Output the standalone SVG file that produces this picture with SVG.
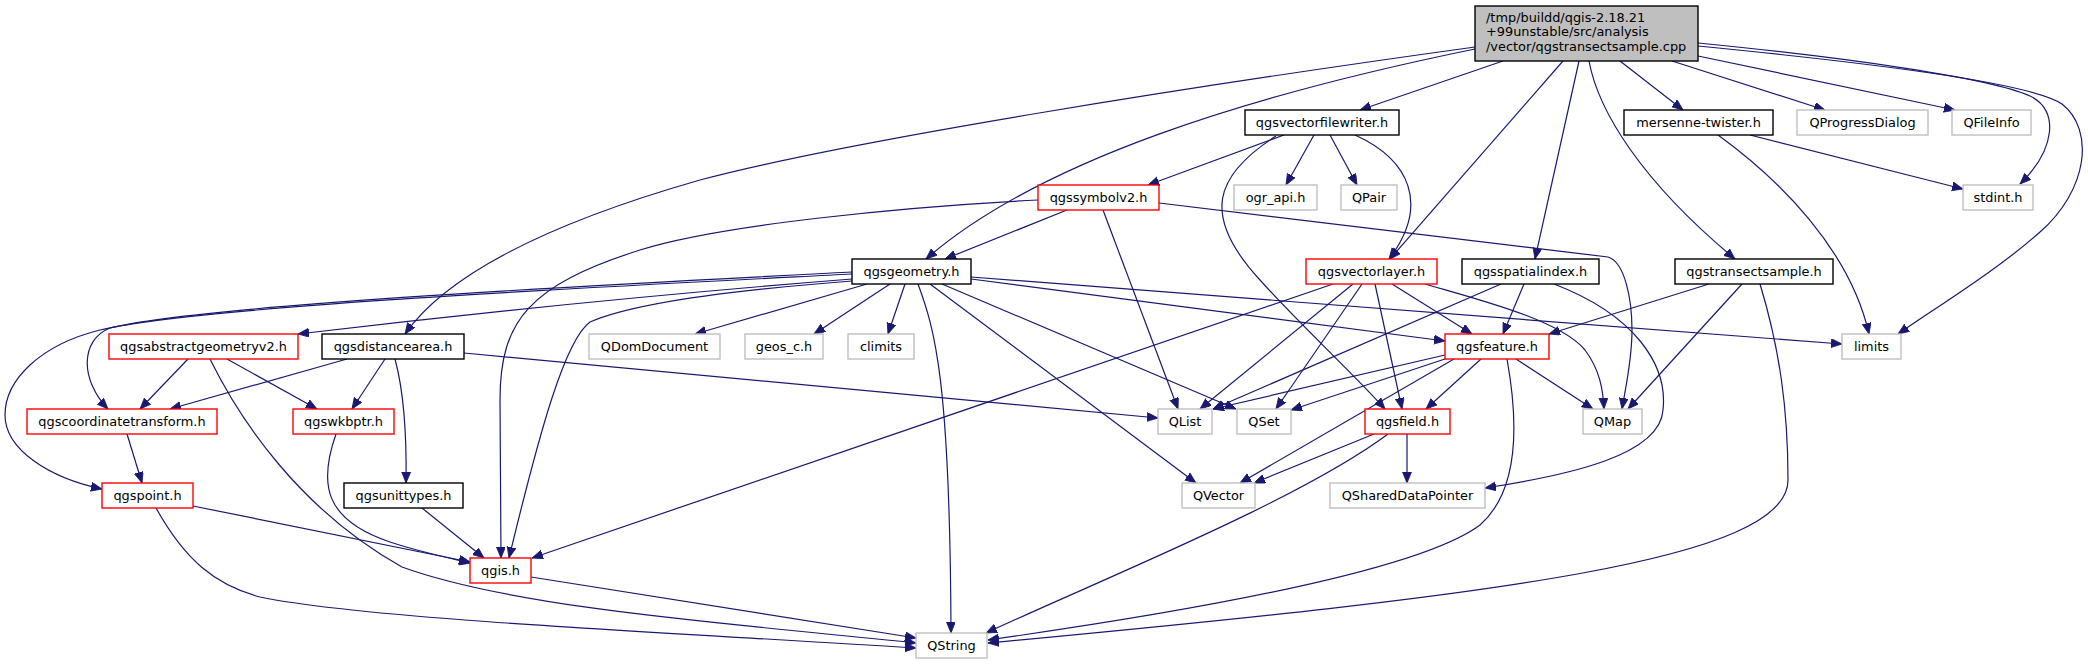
<svg xmlns="http://www.w3.org/2000/svg" width="2088" height="664" viewBox="0 0 2088 664">
<defs>
<marker id="a" markerUnits="userSpaceOnUse" markerWidth="12" markerHeight="10" refX="11" refY="4.5" orient="auto">
<path d="M0,0 L11,4.5 L0,9 z" fill="#191970" stroke="#191970" stroke-width="0.8"/>
</marker>
<style>
.e{fill:none;stroke:#191970;stroke-width:1.2;marker-end:url(#a)}
rect{stroke-width:1.4}
.m{fill:#bfbfbf;stroke:#000}
.b{fill:#fff;stroke:#000}
.r{fill:#fff;stroke:#ff0000}
.g{fill:#fff;stroke:#bfbfbf}
text{font-family:"DejaVu Sans","Noto Sans",sans-serif;font-size:12.9px;fill:#000;text-anchor:middle}
.l{text-anchor:start}
</style>
</defs>
<rect width="2088" height="664" fill="#fff"/>
<g id="edges">
<path class="e" d="M1503,61 L1360,110"/>
<path class="e" d="M1620,61 L1683,110"/>
<path class="e" d="M1672,61 L1825,110"/>
<path class="e" d="M1698,56 L1955,110"/>
<path class="e" d="M1698,43 C1850,58 1990,78 2030,96 C2060,110 2055,150 2020,184"/>
<path class="e" d="M1698,46 C1860,62 2030,82 2062,104 C2095,130 2088,190 2040,232 C2000,268 1940,305 1898,334"/>
<path class="e" d="M1563,61 L1390,259"/>
<path class="e" d="M1579,61 L1535,259"/>
<path class="e" d="M1589,61 C1598,110 1640,180 1735,259"/>
<path class="e" d="M1475,49 C1250,95 1040,160 926,259"/>
<path class="e" d="M1475,47 C1200,85 850,140 700,180 C560,220 450,270 405,334"/>
<path class="e" d="M1284,135 L1148,185"/>
<path class="e" d="M1314,135 L1286,185"/>
<path class="e" d="M1330,135 L1357,185"/>
<path class="e" d="M1355,135 C1410,160 1430,205 1389,259"/>
<path class="e" d="M1276,136 C1215,175 1200,215 1260,280 C1300,325 1350,370 1385,409"/>
<path class="e" d="M1067,210 L945,259"/>
<path class="e" d="M1038,200 C900,207 720,225 640,250 C530,285 500,320 500,400 L501,558"/>
<path class="e" d="M1103,210 L1178,409"/>
<path class="e" d="M1159,203 L1608,257 C1625,262 1632,300 1632,330 C1632,360 1626,385 1622,409"/>
<path class="e" d="M852,279 C700,291 500,310 298,334"/>
<path class="e" d="M852,272 C600,285 200,305 110,328 C80,340 80,380 108,409"/>
<path class="e" d="M852,274 C600,287 200,306 100,330 C40,345 5,380 5,415 C5,450 50,478 102,489"/>
<path class="e" d="M852,281 C760,288 640,300 590,322 C565,340 540,430 509,558"/>
<path class="e" d="M867,284 L695,334"/>
<path class="e" d="M890,284 L814,334"/>
<path class="e" d="M905,284 L888,334"/>
<path class="e" d="M918,284 C935,330 950,380 951,633"/>
<path class="e" d="M930,284 L1196,483"/>
<path class="e" d="M942,284 L1236,409"/>
<path class="e" d="M971,279 L1445,341"/>
<path class="e" d="M971,277 L1842,344"/>
<path class="e" d="M347,359 L170,409"/>
<path class="e" d="M385,359 L352,409"/>
<path class="e" d="M395,359 C402,385 407,420 406,483"/>
<path class="e" d="M464,353 L1158,418"/>
<path class="e" d="M188,359 L140,409"/>
<path class="e" d="M227,359 L317,409"/>
<path class="e" d="M210,359 C240,420 300,510 402,567 C520,610 750,625 916,643"/>
<path class="e" d="M127,434 L142,483"/>
<path class="e" d="M336,434 C318,485 325,520 390,542 C420,552 445,557 471,563"/>
<path class="e" d="M193,506 L470,562"/>
<path class="e" d="M156,508 C185,560 215,585 260,597 C370,620 700,634 916,648"/>
<path class="e" d="M422,508 L484,558"/>
<path class="e" d="M531,577 L916,638"/>
<path class="e" d="M1333,284 L532,558"/>
<path class="e" d="M1353,284 L1200,409"/>
<path class="e" d="M1362,284 L1276,409"/>
<path class="e" d="M1375,284 L1402,409"/>
<path class="e" d="M1392,284 L1472,334"/>
<path class="e" d="M1425,284 C1480,300 1560,320 1585,350 C1600,370 1603,390 1604,409"/>
<path class="e" d="M1501,284 L1213,409"/>
<path class="e" d="M1524,284 L1503,334"/>
<path class="e" d="M1554,284 C1635,315 1668,365 1663,410 C1660,455 1570,475 1485,488"/>
<path class="e" d="M1709,284 L1549,334"/>
<path class="e" d="M1742,284 L1628,409"/>
<path class="e" d="M1760,284 C1780,350 1788,410 1788,480 C1788,560 1500,595 988,643"/>
<path class="e" d="M1445,355 L1213,409"/>
<path class="e" d="M1448,358 L1291,410"/>
<path class="e" d="M1454,359 L1240,483"/>
<path class="e" d="M1481,359 L1426,409"/>
<path class="e" d="M1516,359 L1593,409"/>
<path class="e" d="M1507,359 C1518,420 1520,490 1480,525 C1420,570 1200,610 988,640"/>
<path class="e" d="M1374,434 L1254,483"/>
<path class="e" d="M1407,434 L1407,483"/>
<path class="e" d="M1388,434 C1300,500 1100,580 986,633"/>
<path class="e" d="M1750,135 L1963,189"/>
<path class="e" d="M1718,135 C1780,180 1850,250 1869,334"/>
</g>
<g id="n_main"><rect class="m" x="1475" y="6" width="223" height="55"/><text class="l" x="1486" y="21.5">/tmp/buildd/qgis-2.18.21</text><text class="l" x="1486" y="36">+99unstable/src/analysis</text><text class="l" x="1486" y="50.5">/vector/qgstransectsample.cpp</text></g>
<g id="n_qgsvectorfilewriter"><rect class="b" x="1245" y="110" width="154" height="25"/><text x="1322" y="127">qgsvectorfilewriter.h</text></g>
<g id="n_mersenne"><rect class="b" x="1624" y="110" width="149" height="25"/><text x="1698.5" y="127">mersenne-twister.h</text></g>
<g id="n_QProgressDialog"><rect class="g" x="1797" y="110" width="131" height="25"/><text x="1862.5" y="127">QProgressDialog</text></g>
<g id="n_QFileInfo"><rect class="g" x="1952" y="110" width="79" height="25"/><text x="1991.5" y="127">QFileInfo</text></g>
<g id="n_qgssymbolv2"><rect class="r" x="1038" y="185" width="121" height="25"/><text x="1098.5" y="202">qgssymbolv2.h</text></g>
<g id="n_ogr_api"><rect class="g" x="1234" y="185" width="83" height="25"/><text x="1275.5" y="202">ogr_api.h</text></g>
<g id="n_QPair"><rect class="g" x="1341" y="185" width="56" height="25"/><text x="1369" y="202">QPair</text></g>
<g id="n_stdint"><rect class="g" x="1963" y="185" width="70" height="25"/><text x="1998" y="202">stdint.h</text></g>
<g id="n_qgsgeometry"><rect class="b" x="852" y="259" width="119" height="25"/><text x="911.5" y="276">qgsgeometry.h</text></g>
<g id="n_qgsvectorlayer"><rect class="r" x="1306" y="259" width="131" height="25"/><text x="1371.5" y="276">qgsvectorlayer.h</text></g>
<g id="n_qgsspatialindex"><rect class="b" x="1462" y="259" width="137" height="25"/><text x="1530.5" y="276">qgsspatialindex.h</text></g>
<g id="n_qgstransectsample"><rect class="b" x="1675" y="259" width="158" height="25"/><text x="1754" y="276">qgstransectsample.h</text></g>
<g id="n_qgsabstractgeometryv2"><rect class="r" x="109" y="334" width="189" height="25"/><text x="203.5" y="351">qgsabstractgeometryv2.h</text></g>
<g id="n_qgsdistancearea"><rect class="b" x="322" y="334" width="142" height="25"/><text x="393" y="351">qgsdistancearea.h</text></g>
<g id="n_QDomDocument"><rect class="g" x="589" y="334" width="131" height="25"/><text x="654.5" y="351">QDomDocument</text></g>
<g id="n_geos_c"><rect class="g" x="745" y="334" width="78" height="25"/><text x="784" y="351">geos_c.h</text></g>
<g id="n_climits"><rect class="g" x="848" y="334" width="66" height="25"/><text x="881" y="351">climits</text></g>
<g id="n_qgsfeature"><rect class="r" x="1445" y="334" width="104" height="25"/><text x="1497" y="351">qgsfeature.h</text></g>
<g id="n_limits"><rect class="g" x="1842" y="334" width="59" height="25"/><text x="1871.5" y="351">limits</text></g>
<g id="n_qgscoordinatetransform"><rect class="r" x="27" y="409" width="190" height="25"/><text x="122" y="426">qgscoordinatetransform.h</text></g>
<g id="n_qgswkbptr"><rect class="r" x="293" y="409" width="101" height="25"/><text x="343.5" y="426">qgswkbptr.h</text></g>
<g id="n_QList"><rect class="g" x="1158" y="409" width="54" height="25"/><text x="1185" y="426">QList</text></g>
<g id="n_QSet"><rect class="g" x="1237" y="409" width="54" height="25"/><text x="1264" y="426">QSet</text></g>
<g id="n_qgsfield"><rect class="r" x="1365" y="409" width="85" height="25"/><text x="1407.5" y="426">qgsfield.h</text></g>
<g id="n_QMap"><rect class="g" x="1583" y="409" width="59" height="25"/><text x="1612.5" y="426">QMap</text></g>
<g id="n_qgspoint"><rect class="r" x="102" y="483" width="91" height="25"/><text x="147.5" y="500">qgspoint.h</text></g>
<g id="n_qgsunittypes"><rect class="b" x="344" y="483" width="119" height="25"/><text x="403.5" y="500">qgsunittypes.h</text></g>
<g id="n_QVector"><rect class="g" x="1182" y="483" width="73" height="25"/><text x="1218.5" y="500">QVector</text></g>
<g id="n_QSharedDataPointer"><rect class="g" x="1330" y="483" width="155" height="25"/><text x="1407.5" y="500">QSharedDataPointer</text></g>
<g id="n_qgis"><rect class="r" x="470" y="558" width="61" height="25"/><text x="500.5" y="575">qgis.h</text></g>
<g id="n_QString"><rect class="g" x="916" y="633" width="71" height="25"/><text x="951.5" y="650">QString</text></g>
</svg>
